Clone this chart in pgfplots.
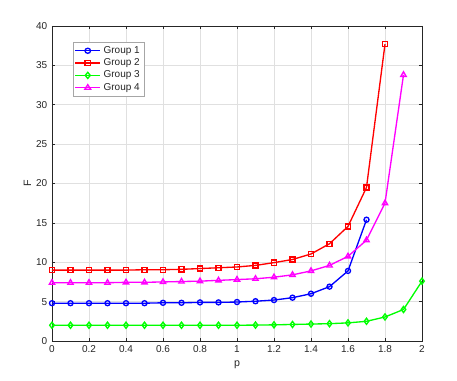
\documentclass[border=0pt]{standalone}
\usepackage{pgfplots}
\pgfplotsset{compat=1.18}
\usepackage{fontspec}
\setmainfont{Liberation Sans}
\definecolor{axgray}{rgb}{0.15,0.15,0.15}
\definecolor{gridgray}{rgb}{0.88,0.88,0.88}
\definecolor{cblue}{rgb}{0,0,1}
\definecolor{cred}{rgb}{1,0,0}
\definecolor{cgreen}{rgb}{0,1,0}
\definecolor{cmag}{rgb}{1,0,1}
\begin{document}
\begin{tikzpicture}
\useasboundingbox (-39pt,-30pt) rectangle (303.75pt,255.75pt);
\begin{axis}[
  at={(0,0)}, anchor=south west,
  scale only axis, width=277.5pt, height=236.25pt,
  xmin=0, xmax=2, ymin=0, ymax=40,
  xtick={0,0.2,...,2.01}, ytick={0,5,...,40},
  /pgf/number format/assume math mode=true,
  xticklabel style={/pgf/number format/fixed, font=\fontsize{7.5}{9}\selectfont, text=axgray},
  yticklabel style={font=\fontsize{7.5}{9}\selectfont, text=axgray},
  xlabel={p}, ylabel={F},
  label style={font=\fontsize{8}{9}\selectfont, text=axgray},
  xlabel style={yshift=1pt},
  ylabel style={yshift=-3pt},
  grid=major, major grid style={gridgray, line width=0.4pt},
  axis line style={axgray, line width=0.4pt},
  tick style={axgray, line width=0.4pt},
  tick align=inside, major tick length=2.5pt,
  axis background/.style={fill=white},
  legend style={at={(0.056,0.950)}, anchor=north west, draw=gray!70, font=\fontsize{7.5}{9}\selectfont, text=axgray, inner sep=1.2pt, row sep=-1.5pt},
  legend cell align=left,
  legend image post style={xscale=1.1},
  every axis plot/.append style={line width=1pt, mark size=1.9pt, mark options={solid, fill=none}},
]
\addplot[cblue, mark=o] coordinates {
(0,4.8)(0.1,4.8)(0.2,4.8)(0.3,4.8)(0.4,4.8)(0.5,4.8)(0.6,4.85)(0.7,4.85)(0.8,4.9)(0.9,4.9)
(1.0,4.95)(1.1,5.05)(1.2,5.2)(1.3,5.5)(1.4,6.0)(1.5,6.9)(1.6,8.9)(1.7,15.4)};
\addlegendentry{Group 1}
\addplot[cred, mark=square] coordinates {
(0,9.0)(0.1,9.0)(0.2,9.0)(0.3,9.0)(0.4,9.0)(0.5,9.05)(0.6,9.05)(0.7,9.1)(0.8,9.2)(0.9,9.3)
(1.0,9.4)(1.1,9.6)(1.2,9.95)(1.3,10.35)(1.4,11.05)(1.5,12.35)(1.6,14.55)(1.7,19.5)(1.8,37.7)};
\addlegendentry{Group 2}
\addplot[cgreen, mark=diamond, mark size=2.3pt] coordinates {
(0,2.0)(0.1,2.0)(0.2,2.0)(0.3,2.0)(0.4,2.0)(0.5,2.0)(0.6,2.0)(0.7,2.0)(0.8,2.0)(0.9,2.0)
(1.0,2.0)(1.1,2.02)(1.2,2.05)(1.3,2.1)(1.4,2.15)(1.5,2.2)(1.6,2.3)(1.7,2.5)(1.8,3.05)(1.9,4.0)(2.0,7.6)};
\addlegendentry{Group 3}
\addplot[cmag, mark=triangle, mark size=2.3pt] coordinates {
(0,7.4)(0.1,7.4)(0.2,7.4)(0.3,7.4)(0.4,7.45)(0.5,7.45)(0.6,7.5)(0.7,7.55)(0.8,7.6)(0.9,7.7)
(1.0,7.8)(1.1,7.9)(1.2,8.1)(1.3,8.4)(1.4,8.9)(1.5,9.6)(1.6,10.75)(1.7,12.8)(1.8,17.5)(1.9,33.8)};
\addlegendentry{Group 4}
\end{axis}
\end{tikzpicture}
\end{document}
